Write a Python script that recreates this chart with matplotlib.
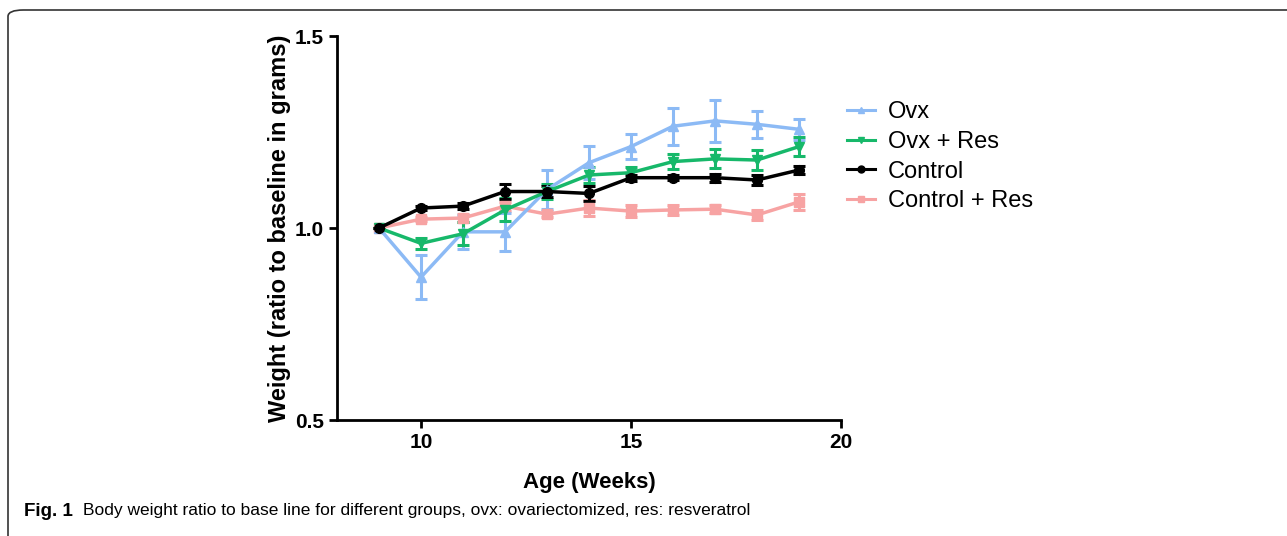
import matplotlib
matplotlib.use("Agg")
import matplotlib.pyplot as plt
from matplotlib.patches import FancyBboxPatch
from matplotlib.lines import Line2D

weeks = [9, 10, 11, 12, 13, 14, 15, 16, 17, 18, 19]

ovx = [1.0, 0.872, 0.99, 0.99, 1.10, 1.17, 1.212, 1.265, 1.279, 1.27, 1.257]
ovx_err = [0.0, 0.058, 0.045, 0.05, 0.05, 0.043, 0.033, 0.048, 0.055, 0.035, 0.028]

ovx_res = [1.0, 0.96, 0.985, 1.047, 1.095, 1.138, 1.144, 1.173, 1.18, 1.177, 1.212]
ovx_res_err = [0.0, 0.015, 0.03, 0.03, 0.02, 0.02, 0.015, 0.02, 0.025, 0.025, 0.025]

control = [1.0, 1.052, 1.057, 1.095, 1.095, 1.09, 1.131, 1.131, 1.131, 1.125, 1.151]
control_err = [0.0, 0.006, 0.008, 0.02, 0.015, 0.02, 0.008, 0.006, 0.01, 0.012, 0.01]

control_res = [1.0, 1.023, 1.026, 1.057, 1.036, 1.052, 1.044, 1.047, 1.049, 1.034, 1.068]
control_res_err = [0.0, 0.005, 0.01, 0.012, 0.008, 0.02, 0.015, 0.012, 0.01, 0.012, 0.02]

labels = ["Ovx", "Ovx + Res", "Control", "Control + Res"]
colors = ["#8cbaf5", "#17b86a", "#000000", "#f7a3a3"]
markers = ["^", "v", "o", "s"]

FAM = ["Liberation Sans", "DejaVu Sans"]

fig = plt.figure(figsize=(12.87, 5.36), dpi=100)
border = FancyBboxPatch((8 / 1287, -0.05), 1.2, 1 - 10 / 536 + 0.05,
                        boxstyle="round,pad=0,rounding_size=0.012",
                        transform=fig.transFigure, fill=False, edgecolor="#333333",
                        linewidth=1.2, clip_on=False)
fig.patches.append(border)

ax = fig.add_axes([337 / 1287, 1 - 420 / 536, (841 - 337) / 1287, (420 - 36) / 536])

series = [(ovx, ovx_err), (ovx_res, ovx_res_err), (control, control_err), (control_res, control_res_err)]
order = [3, 0, 1, 2]
for i in order:
    vals, errs = series[i]
    ax.errorbar(weeks, vals, yerr=errs, color=colors[i], marker=markers[i], markersize=7,
                linewidth=2.5, elinewidth=2.2, capsize=4, capthick=2.2)

ax.set_xlim(8, 20)
ax.set_ylim(0.5, 1.5)
ax.set_xticks([10, 15, 20])
ax.set_yticks([0.5, 1.0, 1.5])
ax.set_yticklabels(["0.5", "1.0", "1.5"])
for s in ["top", "right"]:
    ax.spines[s].set_visible(False)
for s in ["left", "bottom"]:
    ax.spines[s].set_linewidth(2)
ax.tick_params(width=2, length=6, labelsize=15)
for t in ax.get_xticklabels() + ax.get_yticklabels():
    t.set_fontweight("bold")
    t.set_family(FAM)

ax.set_xlabel("Age (Weeks)", fontsize=16, fontweight="bold", family=FAM, labelpad=14)
ax.set_ylabel("Weight (ratio to baseline in grams)", fontsize=17, fontweight="bold",
              family=FAM, labelpad=3)

handles = [Line2D([], [], color=colors[i], marker=markers[i], markersize=5, linewidth=2.2)
           for i in range(4)]
fig.legend(handles, labels, loc="upper left",
           bbox_to_anchor=(838 / 1287, 1 - 92 / 536), frameon=False,
           prop={"family": FAM, "size": 17},
           handlelength=1.15, handletextpad=0.55, labelspacing=0.32, borderaxespad=0)

cy = 1 - 511 / 536
fig.text(24 / 1287, cy, "Fig. 1", fontsize=13.5, fontweight="bold", va="center", family=FAM)
fig.text(83 / 1287, cy,
         "Body weight ratio to base line for different groups, ovx: ovariectomized, res: resveratrol",
         fontsize=12.5, va="center", family=FAM)

fig.savefig("out.png", dpi=100)
